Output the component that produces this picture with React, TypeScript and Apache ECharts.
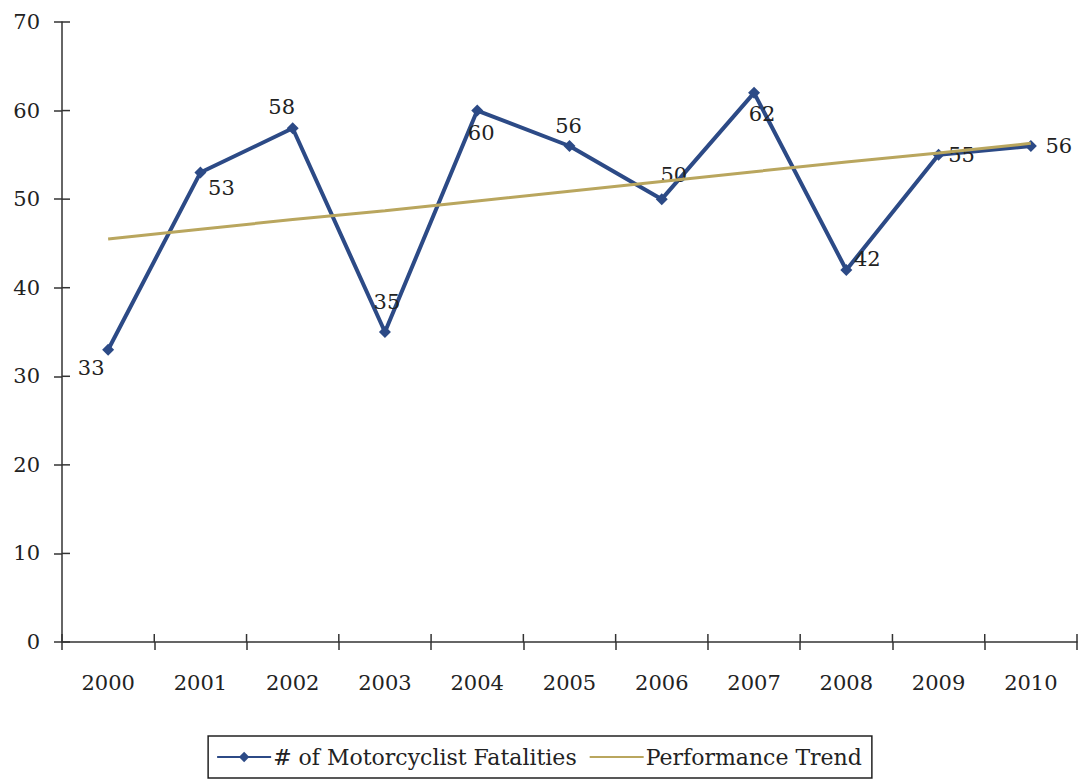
import React, { useEffect, useRef } from "react";
import * as echarts from "echarts";

const years = ["2000", "2001", "2002", "2003", "2004", "2005", "2006", "2007", "2008", "2009", "2010"];
const fatalities = [33, 53, 58, 35, 60, 56, 50, 62, 42, 55, 56];
const trend = [45.5, 46.6, 47.7, 48.7, 49.8, 50.9, 52.0, 53.1, 54.2, 55.2, 56.3];
const yTicks = [0, 10, 20, 30, 40, 50, 60, 70];
const labelOffsets: [number, number][] = [
  [-17, 18], [21, 15], [-11, -21], [2, -30], [4, 22], [-1, -20],
  [12, -24], [8, 21], [21, -11], [23, 0], [28, 0],
];

const FONT = "DejaVu Serif";
const BLUE = "#2C4A86";
const GOLD = "#B9A65E";
const AXIS = "#333";
const TICK = 8;

export default function App() {
  const ref = useRef<HTMLDivElement>(null);
  useEffect(() => {
    if (!ref.current) return;
    const chart = echarts.init(ref.current, undefined, { renderer: "svg" });
    const axisLine = { show: true, onZero: false, lineStyle: { color: AXIS, width: 1.5 } };
    const tickOut = { show: true, inside: false, length: TICK, lineStyle: { color: AXIS, width: 1.5 } };
    chart.setOption({
      animation: false,
      backgroundColor: "#fff",
      textStyle: { fontFamily: FONT },
      grid: { left: 62, right: 1, top: 22, bottom: 138, containLabel: false },
      xAxis: {
        type: "category",
        data: years,
        boundaryGap: true,
        axisLine,
        axisTick: tickOut,
        axisLabel: { color: "#222", fontSize: 21, fontFamily: FONT, margin: 30 },
        splitLine: { show: false },
      },
      yAxis: {
        type: "value",
        min: 0,
        max: 70,
        interval: 10,
        axisLine,
        axisTick: tickOut,
        axisLabel: { color: "#222", fontSize: 21, fontFamily: FONT, margin: 22 },
        splitLine: { show: false },
      },
      legend: {
        bottom: 2,
        left: "center",
        itemGap: 12,
        itemWidth: 54,
        itemHeight: 13,
        borderColor: "#222",
        borderWidth: 1.5,
        borderRadius: 0,
        padding: [10, 10, 10, 8],
        textStyle: { fontFamily: FONT, fontSize: 22, color: "#222", padding: [0, 0, 0, -3] },
        data: [
          { name: "# of Motorcyclist Fatalities" },
          { name: "Performance Trend", itemStyle: { opacity: 0 } },
        ],
      },
      series: [
        {
          id: "xTicksInside",
          type: "custom",
          silent: true,
          clip: false,
          z: 10,
          data: years.map((_, i) => [i, 0]),
          renderItem: (params: any, api: any) => {
            const i = api.value(0);
            const c = api.coord([i, 0]);
            const w = api.size([1, 0])[0];
            const children: any[] = [
              { type: "rect", shape: { x: c[0] - w / 2 - 0.75, y: c[1] - TICK, width: 1.5, height: TICK }, style: { fill: AXIS } },
            ];
            if (i === years.length - 1) {
              children.push({ type: "rect", shape: { x: c[0] + w / 2 - 0.75, y: c[1] - TICK, width: 1.5, height: TICK }, style: { fill: AXIS } });
            }
            return { type: "group", children };
          },
        },
        {
          id: "yTicksInside",
          type: "custom",
          silent: true,
          clip: false,
          z: 10,
          data: yTicks.map((v) => [0, v]),
          renderItem: (params: any, api: any) => {
            const y = api.coord([0, api.value(1)])[1];
            const x = params.coordSys.x;
            return { type: "rect", shape: { x, y: y - 0.75, width: TICK, height: 1.5 }, style: { fill: AXIS } };
          },
        },
        {
          name: "# of Motorcyclist Fatalities",
          type: "line",
          data: fatalities.map((v, i) => ({
            value: v,
            label: { offset: labelOffsets[i] },
          })),
          symbol: "diamond",
          symbolSize: 12,
          lineStyle: { color: BLUE, width: 4 },
          itemStyle: { color: BLUE },
          label: {
            show: true,
            position: "inside",
            fontFamily: FONT,
            fontSize: 21,
            color: "#222",
          },
          z: 2,
        },
        {
          name: "Performance Trend",
          type: "line",
          data: trend,
          symbol: "none",
          lineStyle: { color: GOLD, width: 3 },
          itemStyle: { color: GOLD },
          z: 3,
        },
      ],
    });
    return () => chart.dispose();
  }, []);
  return <div ref={ref} style={{ width: 1078, height: 780, position: "absolute", left: 0, top: 0 }} />;
}
